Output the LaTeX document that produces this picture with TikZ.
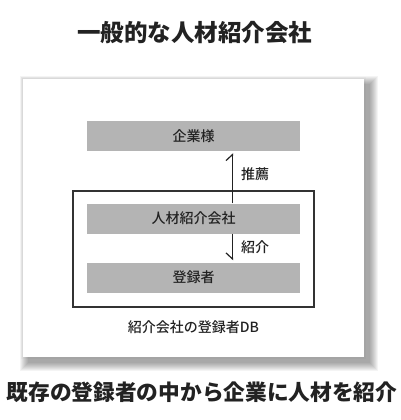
\documentclass[tikz,border=0pt]{standalone}
\usepackage{fontspec}
\setmainfont{Noto Sans CJK JP}
\newfontfamily\medfont{Noto Sans CJK JP Medium}
\usetikzlibrary{arrows.meta}
\definecolor{boxgray}{HTML}{B4B4B4}
\definecolor{ink}{HTML}{222222}
\definecolor{frame}{HTML}{333333}
\begin{document}
\begin{tikzpicture}[x=1pt,y=-1pt,
  graybox/.style={fill=boxgray, draw=none, minimum width=213pt, minimum height=30pt, inner sep=0pt, text=ink, font=\medfont\fontsize{14}{14}\selectfont},
  lbl/.style={text=ink, font=\medfont\fontsize{14}{14}\selectfont, inner sep=0pt},
  conn/.style={draw=ink, line width=1.2pt},
]
\useasboundingbox (0,0) rectangle (400,420);
\fill[white] (0,0) rectangle (400,420);
% shadow
\foreach \i in {1,...,9}{
  \fill[black, opacity=0.045] (23+5-9+\i, 79+5-9+\i) rectangle (364+6+9-\i, 357+6+9-\i);
}
\fill[black, opacity=0.02] (21,77) rectangle (366,359);
% card
\fill[white] (23,79) rectangle (364,357);
% title
\node[text=ink, font=\bfseries\fontsize{23.5}{23.5}\selectfont, inner sep=0pt] (title) at (194.5,33) {一般的な人材紹介会社};
% frame
\draw[frame, line width=1.3pt] (73,191) rectangle (314,307);
% boxes
\node[graybox] (kigyo) at (193.5,136) {企業様};
\node[graybox] (kaisha) at (193.5,218.5) {人材紹介会社};
\node[graybox] (toroku) at (193.5,277.5) {登録者};
\coordinate (ax) at (232.5,0);
\draw[conn, -{Straight Barb[left, length=6pt, width=13pt, line width=1.2pt]}] (kaisha.north -| ax) -- ([yshift=-2pt]kigyo.south -| ax);
\draw[conn, -{Straight Barb[right, length=6pt, width=13pt, line width=1.2pt]}] (kaisha.south -| ax) -- ([yshift=2pt]toroku.north -| ax);
\node[lbl, anchor=west] (suisen) at (241,174) {推薦};
\node[lbl, anchor=west] (shokai) at (241,247) {紹介};
\node[lbl] (dbcap) at (193.5,327) {紹介会社の登録者DB};
% bottom caption
\node[text=ink, font=\bfseries\fontsize{21.7}{21.7}\selectfont, inner sep=0pt] (bottom) at (202,392) {既存の登録者の中から企業に人材を紹介};
\end{tikzpicture}
\end{document}
